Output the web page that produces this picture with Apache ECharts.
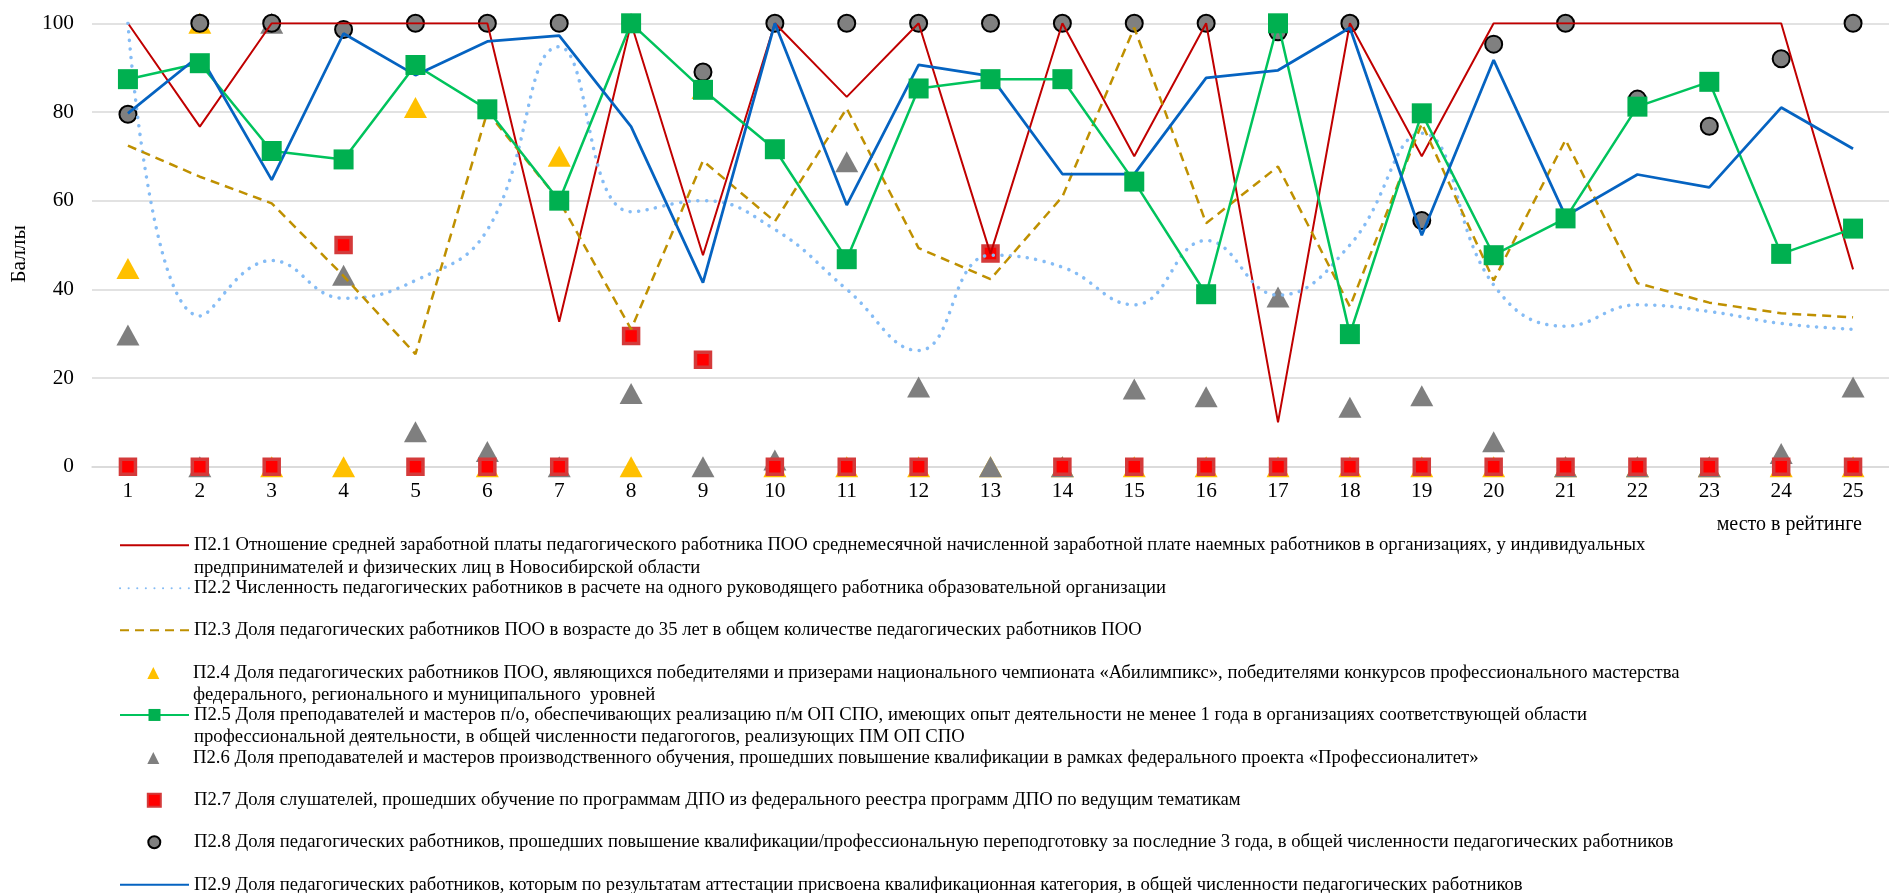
<!DOCTYPE html>
<html>
<head>
<meta charset="utf-8">
<script src="https://cdn.jsdelivr.net/npm/echarts/dist/echarts.min.js"></script>
<style>
html,body{margin:0;padding:0;background:#fff;}
#chart{width:1889px;height:893px;}
</style>
</head>
<body>
<div id="chart"></div>
<script>
// ---- data ----
const categories = ['1','2','3','4','5','6','7','8','9','10','11','12','13','14','15','16','17','18','19','20','21','22','23','24','25'];
const yTicks = [0, 20, 40, 60, 80, 100];

const p21 = [100, 76.7, 100, 100, 100, 100, 32.7, 100, 47.7, 100, 83.4, 100, 48, 100, 70, 100, 10, 100, 70, 100, 100, 100, 100, 100, 44.5];
const p22 = [100, 34, 46.5, 38, 42, 53.4, 94.7, 57.5, 60, 53.5, 40, 26.2, 47.7, 45, 36.5, 51, 38.7, 50, 75.2, 41, 31.7, 36.5, 35, 32.3, 31];
const p23 = [72.4, 65.4, 59.4, 43, 25.4, 80, 60, 31, 69, 55.3, 80.8, 49.3, 42.3, 60.9, 99, 54.9, 67.7, 36.1, 77.4, 42, 73.7, 41.4, 37, 34.6, 33.7];
const p24 = [44.7, 100, 0, 0, 81, 0, 70, 0, 85.3, 0, 0, 0, 0, 0, 0, 0, 0, 0, 0, 0, 0, 0, 0, 0, 0];
const p25 = [87.4, 91, 71.2, 69.3, 90.6, 80.6, 60, 100, 85, 71.6, 46.8, 85.3, 87.4, 87.4, 64.3, 38.9, 100, 29.9, 79.7, 47.7, 56, 81.2, 86.8, 48, 53.7];
const p26 = [29.7, 0, 100, 43.2, 7.9, 3.4, 0, 16.5, 0, 1.5, 68.8, 18, 0, 0, 17.5, 15.8, 38.3, 13.4, 16, 5.6, 0, 0, 0, 3, 18];
const p27 = [0, 0, 0, 50, 0, 0, 0, 29.5, 24.1, 0, 0, 0, 48.1, 0, 0, 0, 0, 0, 0, 0, 0, 0, 0, 0, 0];
const p28 = [79.5, 100, 100, 98.6, 100, 100, 100, 100, 89, 100, 100, 100, 100, 100, 100, 100, 98.1, 100, 55.5, 95.3, 100, 82.9, 76.8, 92, 100];
const p29 = [79.7, 92.8, 64.7, 97.7, 88.3, 95.9, 97.2, 76.7, 41.5, 100, 59, 90.6, 88.1, 66, 66, 87.7, 89.4, 99, 52.2, 91.7, 56.5, 65.9, 63, 81, 71.7];

const legendLabels = [
  'П2.1 Отношение средней заработной платы педагогического работника ПОО среднемесячной начисленной заработной плате наемных работников в организациях, у индивидуальных\nпредпринимателей и физических лиц в Новосибирской области',
  'П2.2 Численность педагогических работников в расчете на одного руководящего работника образовательной организации',
  'П2.3 Доля педагогических работников ПОО в возрасте до 35 лет в общем количестве педагогических работников ПОО',
  'П2.4 Доля педагогических работников ПОО, являющихся победителями и призерами национального чемпионата «Абилимпикс», победителями конкурсов профессионального мастерства\nфедерального, регионального и муниципального  уровней',
  'П2.5 Доля преподавателей и мастеров п/о, обеспечивающих реализацию п/м ОП СПО, имеющих опыт деятельности не менее 1 года в организациях соответствующей области\nпрофессиональной деятельности, в общей численности педагогогов, реализующих ПМ ОП СПО',
  'П2.6 Доля преподавателей и мастеров производственного обучения, прошедших повышение квалификации в рамках федерального проекта «Профессионалитет»',
  'П2.7 Доля слушателей, прошедших обучение по программам ДПО из федерального реестра программ ДПО по ведущим тематикам',
  'П2.8 Доля педагогических работников, прошедших повышение квалификации/профессиональную переподготовку за последние 3 года, в общей численности педагогических работников',
  'П2.9 Доля педагогических работников, которым по результатам аттестации присвоена квалификационная категория, в общей численности педагогических работников'
];
const yAxisTitle = 'Баллы';
const xAxisTitle = 'место в рейтинге';

// ---- chart ----
const names = legendLabels.map(s => s.replace('\n', ' '));
const FONT = "'Liberation Serif', 'Times New Roman', serif";
const LEG_FS = 18.67, LEG_LH = 22.5;
const legendY = [543.3, 586.2, 628.2, 671, 713, 756, 798.3, 840.3, 882.7];
// 'line' = line icon (69 px wide), otherwise symbol icon
const legendIcon = ['line', 'line', 'line', 'triangle', 'line', 'triangle', 'rect', 'circle', 'line'];
const lineOnly = [true, true, true, false, false, false, false, false, true];
const ICON_X = 119, ICON_W = 69, SYM_W = 12, TEXT_X = ICON_X + ICON_W + 5;

const chart = echarts.init(document.getElementById('chart'), null, {renderer: 'canvas'});

const legends = names.map((n, i) => {
  const label = legendLabels[i];
  const twoLine = label.indexOf('\n') >= 0;
  const isSym = legendIcon[i] !== 'line';
  const symCenter = ICON_X + 34.3;
  const lg = {
    orient: 'vertical',
    padding: 0,
    selectedMode: false,
    textStyle: {fontFamily: FONT, fontSize: LEG_FS, lineHeight: LEG_LH, color: '#000'}
  };
  if (isSym) {
    const w = legendIcon[i] === 'rect' ? 13 : SYM_W;
    lg.left = symCenter - w / 2;
    lg.itemWidth = w;
    lg.itemHeight = legendIcon[i] === 'rect' ? 13 : SYM_W;
    lg.data = [{name: n, icon: legendIcon[i]}];
    const sp = TEXT_X - (lg.left + w + 5);
    lg.textStyle.rich = {s: {width: sp, lineHeight: LEG_LH, fontSize: LEG_FS, fontFamily: FONT}};
    const lines = label.split('\n');
    let txt = lines.map(l => '{s|}' + l).join('\n');
    if (twoLine) txt = '{s|}\n' + txt;
    lg.formatter = function () { return txt; };
  } else {
    lg.left = ICON_X;
    lg.itemWidth = ICON_W;
    lg.itemHeight = i === 4 ? 15 : 12;
    lg.data = [n];
    const txt = twoLine ? '\n' + label : label;
    lg.formatter = function () { return txt; };
  }
  lg.top = twoLine ? legendY[i] - 31.8 : legendY[i] - 9.3;
  if (lineOnly[i]) lg.itemStyle = {opacity: 0};
  return lg;
});

const option = {
  animation: false,
  backgroundColor: '#fff',
  grid: {left: 92, right: -7, top: 23.3, bottom: 426.3, containLabel: false},
  legend: legends,
  xAxis: {
    type: 'category',
    data: categories,
    boundaryGap: true,
    axisLine: {show: true, lineStyle: {color: '#D9D9D9', width: 1.5}},
    axisTick: {show: false},
    axisLabel: {fontFamily: FONT, fontSize: 21.33, color: '#000', margin: 14},
    splitLine: {show: false}
  },
  yAxis: {
    type: 'value',
    min: yTicks[0],
    max: yTicks[yTicks.length - 1],
    interval: yTicks[1] - yTicks[0],
    name: yAxisTitle,
    nameLocation: 'middle',
    nameGap: 62,
    nameRotate: 90,
    nameTextStyle: {fontFamily: FONT, fontSize: 21.33, color: '#000', padding: [0, 18, 0, 0]},
    axisLine: {show: false},
    axisTick: {show: false},
    axisLabel: {fontFamily: FONT, fontSize: 21.33, color: '#000', margin: 18},
    splitLine: {show: true, lineStyle: {color: '#D9D9D9', width: 1.5}}
  },
  graphic: [{
    type: 'text',
    right: 27,
    top: 515,
    style: {text: xAxisTitle, font: "20px 'Liberation Serif', 'Times New Roman', serif", fill: '#000'}
  }],
  series: [
    {name: names[0], type: 'line', data: p21, symbol: 'none',
     lineStyle: {color: '#C00000', width: 2}, itemStyle: {color: '#C00000'}},
    {name: names[1], type: 'line', data: p22, symbol: 'none', smooth: 0.45,
     lineStyle: {color: '#85BCF5', width: 3.5, type: [0.1, 8.5], cap: 'round'}, itemStyle: {color: '#85BCF5'}},
    {name: names[2], type: 'line', data: p23, symbol: 'none',
     lineStyle: {color: '#BF9000', width: 2.5, type: [9, 6]}, itemStyle: {color: '#BF9000'}},
    {name: names[3], type: 'scatter', data: p24, symbol: 'triangle', symbolSize: [23, 21],
     itemStyle: {color: '#FFC000', opacity: 1}},
    {name: names[4], type: 'line', data: p25, symbol: 'rect', symbolSize: 20, showSymbol: true,
     lineStyle: {color: '#00C35C', width: 2.5}, itemStyle: {color: '#00B050', opacity: 1}},
    {name: names[5], type: 'scatter', data: p26, symbol: 'triangle', symbolSize: [23, 21],
     itemStyle: {color: '#7F7F7F', opacity: 1}},
    {name: names[6], type: 'scatter', data: p27, symbol: 'rect', symbolSize: 15,
     itemStyle: {color: '#FF0000', borderColor: '#D43A3A', borderWidth: 3.5, opacity: 1}},
    {name: names[7], type: 'scatter', data: p28, symbol: 'circle', symbolSize: 17,
     itemStyle: {color: '#808080', borderColor: '#000', borderWidth: 2, opacity: 1}},
    {name: names[8], type: 'line', data: p29, symbol: 'none',
     lineStyle: {color: '#0563C1', width: 2.75}, itemStyle: {color: '#0563C1'}}
  ]
};
chart.setOption(option);
</script>
</body>
</html>
